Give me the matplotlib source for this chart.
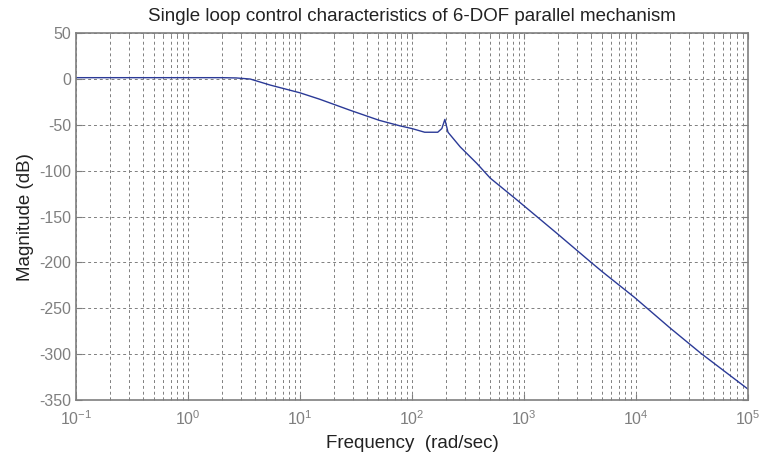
import numpy as np
import matplotlib
import matplotlib.pyplot as plt
from matplotlib.ticker import LogLocator, NullFormatter

matplotlib.use("Agg")
plt.rcParams.update({
    "font.family": ["Liberation Sans", "DejaVu Sans"],
    "mathtext.fontset": "custom",
    "mathtext.rm": "Liberation Sans",
    "mathtext.it": "Liberation Sans",
    "axes.unicode_minus": False,
})

# Magnitude response (rad/sec, dB)
freq = [0.1, 1.0, 2.0, 2.7, 3.6, 5.4, 10, 15, 28, 51, 78, 100, 130, 170,
        185, 197, 210, 270, 380, 500, 870, 1960, 3900, 5000, 9700, 20000,
        38000, 100000]
mag_db = [1.5, 1.5, 1.5, 1.2, 0, -6.5, -15, -22, -34, -45, -51, -54, -58,
          -58, -54, -44, -58, -74, -92, -108, -132, -168, -199, -210, -238,
          -271, -299, -338]

y_ticks = [50, 0, -50, -100, -150, -200, -250, -300, -350]

GREY = "#7f7f7f"
LINE = "#2b3a97"

fig = plt.figure(figsize=(7.6, 4.61), dpi=100)
ax = fig.add_axes([0.1, 0.1323, 0.884, 0.7957])

ax.semilogx(freq, mag_db, color=LINE, linewidth=1.0)

ax.set_xlim(0.1, 1e5)
ax.set_ylim(-350, 50)
ax.set_yticks(y_ticks)
ax.xaxis.set_major_locator(LogLocator(base=10, numticks=10))
ax.xaxis.set_minor_locator(LogLocator(base=10, subs=np.arange(2, 10), numticks=100))
ax.xaxis.set_minor_formatter(NullFormatter())

ax.grid(True, which="major", color=GREY, linestyle=(0, (3, 3)), linewidth=0.7)
ax.grid(True, which="minor", axis="x", color=GREY, linestyle=(0, (3, 3)), linewidth=0.7)

for s in ax.spines.values():
    s.set_color(GREY)
    s.set_linewidth(1.2)

ax.tick_params(which="both", direction="in", top=True, right=True,
               colors=GREY, labelsize=11.5)
ax.tick_params(which="major", length=4)
ax.tick_params(which="minor", length=2)
ax.tick_params(axis="x", pad=7)

ax.set_xlabel("Frequency  (rad/sec)", fontsize=13.5, color="#222222", labelpad=5)
ax.set_ylabel("Magnitude (dB)", fontsize=13.5, color="#222222", labelpad=4)
ax.set_title("Single loop control characteristics of 6-DOF parallel mechanism",
             fontsize=13.5, color="#222222", pad=9)

fig.savefig("out.png", dpi=100)
